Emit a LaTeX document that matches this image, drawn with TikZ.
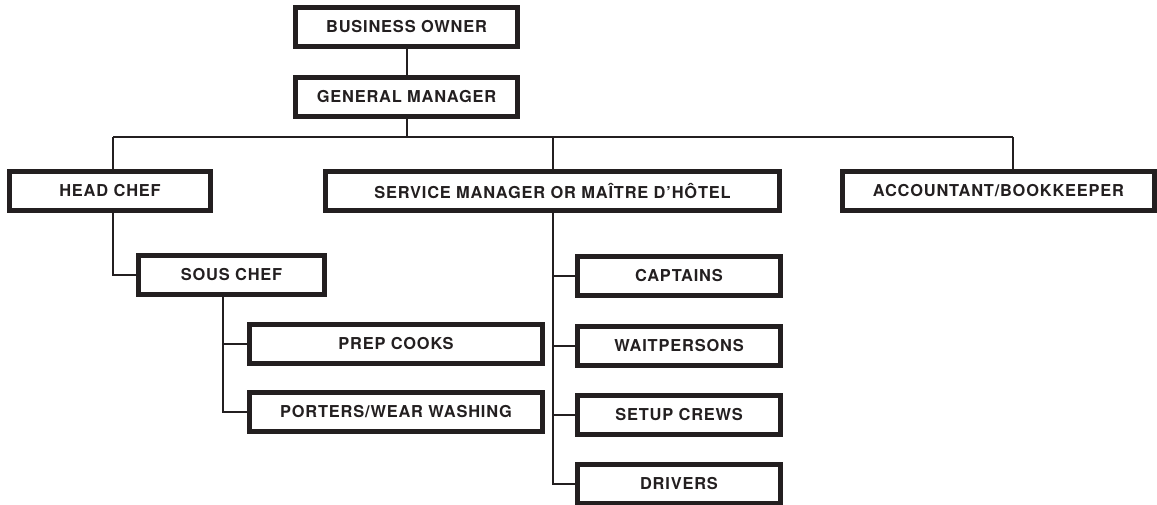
\documentclass[tikz,border=0pt]{standalone}
\usepackage{fontspec}
\usepackage{xcolor}
\usepackage{tikz}
\setmainfont{TeX Gyre Heros}
\newfontfamily\boxfont[LetterSpace=5]{TeX Gyre Heros}
\definecolor{ink}{HTML}{231F20}

\begin{document}
\begin{tikzpicture}[x=1pt,y=-1pt,
  post/.style={draw=ink, line width=5pt, fill=white, inner sep=0pt,
    minimum height=39pt, text=ink, font=\boxfont\bfseries\fontsize{16.4}{18}\selectfont},
  link/.style={draw=ink, line width=2pt}]
 \useasboundingbox (0,0) rectangle (1157,504);
 % top of the chart
 \node[post, minimum width=222pt] (owner) at (406.5,26.5) {BUSINESS OWNER};
 \node[post, minimum width=222pt] (gm) at (406.5,97) {GENERAL MANAGER};
 % second row
 \node[post, minimum width=201pt] (head) at (110,191) {HEAD CHEF};
 \node[post, minimum width=454pt] (service) at (552.5,191) {SERVICE MANAGER OR MAÎTRE D’HÔTEL};
 \node[post, minimum width=312pt] (acct) at (998.5,191) {ACCOUNTANT/BOOKKEEPER};
 % kitchen
 \node[post, minimum width=186pt] (sous) at (231.5,275) {SOUS CHEF};
 \node[post, minimum width=293pt] (prep) at (396,344) {PREP COOKS};
 \node[post, minimum width=293pt] (porters) at (396,411.5) {PORTERS/WEAR WASHING};
 % floor staff
 \foreach \n/\y/\t in {captains/275.5/CAPTAINS, wait/345.5/WAITPERSONS,
   setup/415/SETUP CREWS, drivers/483.5/DRIVERS}
   \node[post, minimum width=203pt] (\n) at (679,\y) {\t};
 % bus under the general manager
 \coordinate (busL) at (113,137);
 \coordinate (busR) at (1013,137);
 \coordinate (kitchen) at (223,300);
 \draw[link] (owner) -- (gm);
 \draw[link] (gm) -- (gm |- busL);
 \draw[link] (busL) -- (busR);
 \draw[link] (busL) -- (busL |- head.north);
 \draw[link] (service.north) -- (service.north |- busL);
 \draw[link] (busR) -- (busR |- acct.north);
 \draw[link] (head.south -| busL) |- (sous.west);
 \draw[link] (sous.south -| kitchen) |- (prep.west);
 \draw[link] (sous.south -| kitchen) |- (porters.west);
 \foreach \n in {captains,wait,setup,drivers}
   \draw[link] (service.south) |- (\n.west);
\end{tikzpicture}
\end{document}
